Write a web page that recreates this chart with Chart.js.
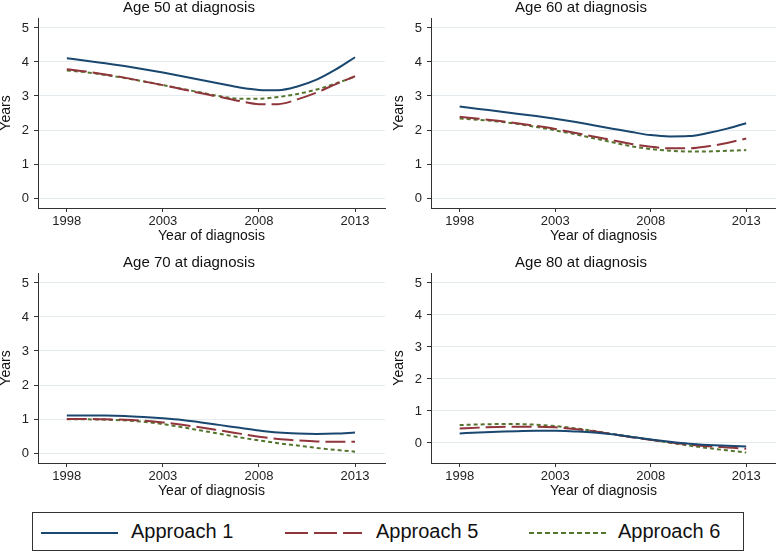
<!DOCTYPE html>
<html>
<head>
<meta charset="utf-8">
<script src="https://cdn.jsdelivr.net/npm/chart.js@4.4.1/dist/chart.umd.min.js"></script>
<style>
body{margin:0;background:#fff;width:776px;height:551px;overflow:hidden;position:relative;font-family:"Liberation Sans",Arial,sans-serif}
canvas{position:absolute}
#legend{position:absolute;left:32px;top:512px;width:712px;height:39px;border:1px solid #333;box-sizing:border-box}
#legend .sw{position:absolute;top:18px}
#legend .lab{position:absolute;top:7px;font-size:20px;line-height:22px;color:#111;white-space:nowrap}
</style>
</head>
<body>
<canvas id="p50" width="393" height="255" style="left:-7px;top:0"></canvas>
<canvas id="p60" width="390" height="255" style="left:386px;top:0"></canvas>
<canvas id="p70" width="393" height="255" style="left:-7px;top:255px"></canvas>
<canvas id="p80" width="390" height="255" style="left:386px;top:255px"></canvas>
<div id="legend"></div>
<script>
// years on the x axis, and the ticks shown
const years = [1998,1999,2000,2001,2002,2003,2004,2005,2006,2007,2008,2009,2010,2011,2012,2013];
const xTicks = [1998,2003,2008,2013];
const yTicks = [0,1,2,3,4,5];
const seriesNames = ['Approach 1','Approach 5','Approach 6'];

// Age 50
const age50_a1 = [4.11,4.04,3.96,3.88,3.79,3.69,3.58,3.47,3.36,3.25,3.18,3.17,3.28,3.48,3.78,4.14];
const age50_a5 = [3.79,3.72,3.63,3.54,3.43,3.32,3.20,3.08,2.97,2.85,2.76,2.76,2.90,3.10,3.35,3.58];
const age50_a6 = [3.75,3.70,3.62,3.53,3.43,3.32,3.21,3.10,2.99,2.92,2.92,2.97,3.06,3.19,3.37,3.57];
// Age 60
const age60_a1 = [2.69,2.62,2.55,2.48,2.41,2.33,2.24,2.14,2.04,1.94,1.85,1.81,1.82,1.91,2.04,2.20];
const age60_a5 = [2.39,2.33,2.27,2.20,2.12,2.03,1.92,1.81,1.70,1.59,1.51,1.46,1.46,1.52,1.62,1.75];
const age60_a6 = [2.34,2.30,2.25,2.18,2.09,1.99,1.88,1.76,1.64,1.52,1.44,1.39,1.37,1.37,1.39,1.41];
// Age 70
const age70_a1 = [1.10,1.10,1.10,1.09,1.06,1.02,0.97,0.90,0.82,0.74,0.66,0.60,0.57,0.56,0.57,0.60];
const age70_a5 = [1.00,1.00,0.99,0.98,0.95,0.90,0.83,0.75,0.66,0.57,0.48,0.41,0.37,0.34,0.33,0.33];
const age70_a6 = [0.99,0.99,0.98,0.96,0.92,0.85,0.76,0.66,0.56,0.46,0.37,0.29,0.22,0.15,0.09,0.04];
// Age 80
const age80_a1 = [0.30,0.33,0.35,0.37,0.38,0.38,0.36,0.33,0.27,0.19,0.11,0.04,-0.02,-0.06,-0.09,-0.11];
const age80_a5 = [0.45,0.48,0.50,0.51,0.51,0.49,0.44,0.37,0.28,0.18,0.10,0.02,-0.05,-0.10,-0.14,-0.18];
const age80_a6 = [0.56,0.58,0.59,0.59,0.57,0.53,0.46,0.38,0.28,0.19,0.10,0.01,-0.08,-0.16,-0.23,-0.30];

const colors = ['#1a476f','#90353b','#55752f'];
const dashes = [[],[20,6],[4,3]];

Chart.defaults.font.family = '"Liberation Sans", Arial, sans-serif';

function makePanel(id, title, series, yMin, yMax, padRight) {
  const datasets = series.map((vals, i) => ({
    label: seriesNames[i],
    data: years.map((y, k) => ({x: y, y: vals[k]})),
    borderColor: colors[i],
    borderDash: dashes[i],
    borderWidth: 2,
    pointRadius: 0,
    fill: false,
    cubicInterpolationMode: 'monotone'
  }));
  return new Chart(document.getElementById(id), {
    type: 'line',
    data: {datasets: datasets},
    options: {
      responsive: false,
      animation: false,
      layout: {padding: {right: padRight}},
      plugins: {
        legend: {display: false},
        tooltip: {enabled: false},
        title: {
          display: true, text: title, color: '#111',
          font: {size: 15, weight: 'normal', lineHeight: 1},
          padding: {top: 0, bottom: 3}
        }
      },
      scales: {
        x: {
          type: 'linear', min: 1996.5, max: 2014.56,
          afterBuildTicks: s => { s.ticks = xTicks.map(v => ({value: v})); },
          afterFit: s => { s.height = 47; },
          grid: {drawOnChartArea: false, tickLength: 4, tickColor: '#333'},
          border: {color: '#333'},
          ticks: {color: '#222', font: {size: 13}, padding: 2, maxRotation: 0, callback: v => String(v)},
          title: {display: true, text: 'Year of diagnosis', color: '#111', font: {size: 14, lineHeight: 1}, padding: {top: 0, bottom: 12}}
        },
        y: {
          min: yMin, max: yMax,
          afterBuildTicks: s => { s.ticks = yTicks.map(v => ({value: v})); },
          afterFit: s => { s.width = 45; },
          grid: {color: '#e4ecef', tickColor: '#333', tickLength: 4},
          border: {color: '#333'},
          ticks: {color: '#222', font: {size: 13}, padding: 5, callback: v => String(v)},
          title: {display: true, text: 'Years', color: '#111', font: {size: 14, lineHeight: 1}, padding: {top: 6, bottom: 0}}
        }
      }
    }
  });
}

makePanel('p50', 'Age 50 at diagnosis', [age50_a1, age50_a5, age50_a6], -0.294, 5.294, 1);
makePanel('p60', 'Age 60 at diagnosis', [age60_a1, age60_a5, age60_a6], -0.294, 5.294, 0);
makePanel('p70', 'Age 70 at diagnosis', [age70_a1, age70_a5, age70_a6], -0.294, 5.294, 1);
makePanel('p80', 'Age 80 at diagnosis', [age80_a1, age80_a5, age80_a6], -0.625, 5.31, 0);

// legend
const legend = document.getElementById('legend');
const swX = [8, 252, 496];
const labX = [98, 343, 585];
seriesNames.forEach((name, i) => {
  const sw = document.createElementNS('http://www.w3.org/2000/svg', 'svg');
  sw.setAttribute('class', 'sw');
  sw.setAttribute('width', '77');
  sw.setAttribute('height', '4');
  sw.style.left = swX[i] + 'px';
  const ln = document.createElementNS('http://www.w3.org/2000/svg', 'line');
  ln.setAttribute('x1', 0); ln.setAttribute('x2', 77);
  ln.setAttribute('y1', 2); ln.setAttribute('y2', 2);
  ln.setAttribute('stroke', colors[i]);
  ln.setAttribute('stroke-width', 2);
  if (dashes[i].length) ln.setAttribute('stroke-dasharray', i === 1 ? '23 6' : '5 3');
  sw.appendChild(ln);
  legend.appendChild(sw);
  const lab = document.createElement('span');
  lab.className = 'lab';
  lab.style.left = labX[i] + 'px';
  lab.textContent = name;
  legend.appendChild(lab);
});
</script>
</body>
</html>
